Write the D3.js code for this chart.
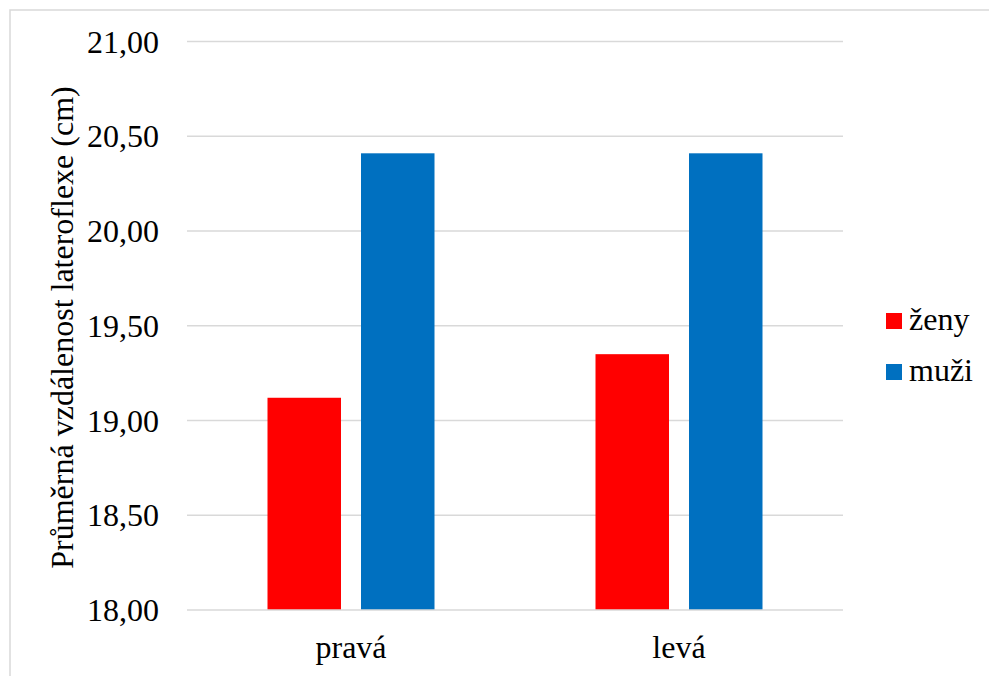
<!DOCTYPE html>
<html>
<head>
<meta charset="utf-8">
<script src="https://cdn.jsdelivr.net/npm/d3@7"></script>
<style>
  html, body { margin: 0; padding: 0; background: #fff; }
  svg { display: block; }
  svg text { font-family: "Liberation Serif", "Times New Roman", "Noto Serif", "DejaVu Serif", FreeSerif, serif; }
</style>
</head>
<body>
<svg id="chart" width="989" height="676"></svg>
<script>
// Mean lateral flexion distance by side, women vs. men
const categories = ["pravá", "levá"];
const seriesNames = ["ženy", "muži"];
const zenyValues = [19.12, 19.35];
const muziValues = [20.41, 20.41];
const yTicks = [18.0, 18.5, 19.0, 19.5, 20.0, 20.5, 21.0];
const yTitle = "Průměrná vzdálenost lateroflexe (cm)";
const colors = ["#ff0000", "#0070c0"];

const rows = categories.map((c, i) => ({ cat: c, values: [zenyValues[i], muziValues[i]] }));

const svg = d3.select("#chart");
const plot = { left: 187, right: 843, top: 41.5, bottom: 610 };

// chart frame
svg.append("rect")
  .attr("x", 10).attr("y", 10)
  .attr("width", 1000).attr("height", 700)
  .attr("fill", "none").attr("stroke", "#d9d9d9").attr("stroke-width", 1.5);

const y = d3.scaleLinear().domain([18, 21]).range([plot.bottom, plot.top]);
const x0 = d3.scaleBand().domain(categories).range([plot.left, plot.right]).padding(0);
const groupW = 167;
const x1 = d3.scaleBand().domain(seriesNames).range([0, groupW]).paddingInner(0.214).paddingOuter(0);
const fmt = v => d3.format(".2f")(v).replace(".", ",");

// gridlines
svg.append("g").selectAll("line")
  .data(yTicks.filter(t => t > 18))
  .join("line")
  .attr("x1", plot.left).attr("x2", plot.right)
  .attr("y1", d => y(d)).attr("y2", d => y(d))
  .attr("stroke", "#d9d9d9").attr("stroke-width", 1.3);

// y tick labels
svg.append("g").selectAll("text")
  .data(yTicks)
  .join("text")
  .attr("x", 159).attr("y", d => y(d) + 11)
  .attr("text-anchor", "end")
  .attr("font-size", 32)
  .text(fmt);

// bars
const groups = svg.append("g").selectAll("g")
  .data(rows)
  .join("g")
  .attr("transform", d => `translate(${x0(d.cat) + x0.bandwidth() / 2 - groupW / 2},0)`);

groups.selectAll("rect")
  .data(d => d.values.map((v, i) => ({ key: seriesNames[i], v, i })))
  .join("rect")
  .attr("x", d => x1(d.key))
  .attr("width", x1.bandwidth())
  .attr("y", d => y(d.v))
  .attr("height", d => y(18) - y(d.v))
  .attr("fill", d => colors[d.i]);

// category axis line
svg.append("line")
  .attr("x1", plot.left).attr("x2", plot.right)
  .attr("y1", y(18)).attr("y2", y(18))
  .attr("stroke", "#d9d9d9").attr("stroke-width", 1.5);

// category labels
svg.append("g").selectAll("text")
  .data(categories)
  .join("text")
  .attr("x", d => x0(d) + x0.bandwidth() / 2)
  .attr("y", 658)
  .attr("text-anchor", "middle")
  .attr("font-size", 32)
  .text(d => d);

// y axis title
svg.append("text")
  .attr("transform", "translate(73,327.5) rotate(-90)")
  .attr("text-anchor", "middle")
  .attr("font-size", 32)
  .text(yTitle);

// legend
const legend = svg.append("g").selectAll("g")
  .data(seriesNames)
  .join("g")
  .attr("transform", (d, i) => `translate(886,${313 + i * 51})`);
legend.append("rect")
  .attr("width", 16).attr("height", 16)
  .attr("fill", (d, i) => colors[i]);
legend.append("text")
  .attr("x", 23).attr("y", 17)
  .attr("font-size", 32)
  .text(d => d);
</script>
</body>
</html>
